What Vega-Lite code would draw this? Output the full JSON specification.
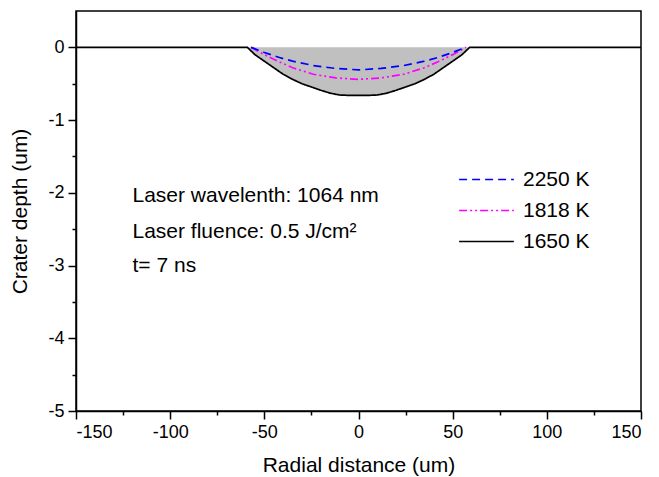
{
  "$schema": "https://vega.github.io/schema/vega-lite/v6.json",
  "width": 565,
  "height": 400,
  "autosize": "none",
  "padding": {"left": 76, "top": 11, "right": 18, "bottom": 66},
  "background": "white",
  "config": {
    "font": "Liberation Sans",
    "view": {"stroke": "black", "strokeWidth": 1.5},
    "axis": {
      "domainColor": "black", "domainWidth": 1.5, "tickColor": "black", "tickWidth": 1.5,
      "labelColor": "black", "labelFontSize": 18, "labelFont": "Liberation Sans",
      "titleColor": "black", "titleFontSize": 21, "titleFont": "Liberation Sans", "titleFontWeight": "normal",
      "grid": false
    }
  },
  "datasets": {
    "curves": [
      {"series": "1650 K", "x": -150, "y": 0},
      {"series": "1650 K", "x": -59, "y": 0},
      {"series": "1650 K", "x": -55, "y": -0.1},
      {"series": "1650 K", "x": -50, "y": -0.19},
      {"series": "1650 K", "x": -45, "y": -0.28},
      {"series": "1650 K", "x": -40, "y": -0.37},
      {"series": "1650 K", "x": -35, "y": -0.44},
      {"series": "1650 K", "x": -30, "y": -0.5},
      {"series": "1650 K", "x": -25, "y": -0.545},
      {"series": "1650 K", "x": -20, "y": -0.59},
      {"series": "1650 K", "x": -15, "y": -0.63},
      {"series": "1650 K", "x": -10, "y": -0.655},
      {"series": "1650 K", "x": -5, "y": -0.66},
      {"series": "1650 K", "x": 0, "y": -0.66},
      {"series": "1650 K", "x": 5, "y": -0.66},
      {"series": "1650 K", "x": 10, "y": -0.655},
      {"series": "1650 K", "x": 15, "y": -0.63},
      {"series": "1650 K", "x": 20, "y": -0.59},
      {"series": "1650 K", "x": 25, "y": -0.545},
      {"series": "1650 K", "x": 30, "y": -0.5},
      {"series": "1650 K", "x": 35, "y": -0.44},
      {"series": "1650 K", "x": 40, "y": -0.37},
      {"series": "1650 K", "x": 45, "y": -0.28},
      {"series": "1650 K", "x": 50, "y": -0.19},
      {"series": "1650 K", "x": 55, "y": -0.1},
      {"series": "1650 K", "x": 59, "y": 0},
      {"series": "1650 K", "x": 150, "y": 0},
      {"series": "1818 K", "x": -57, "y": 0},
      {"series": "1818 K", "x": -50, "y": -0.1},
      {"series": "1818 K", "x": -42, "y": -0.2},
      {"series": "1818 K", "x": -35, "y": -0.28},
      {"series": "1818 K", "x": -24, "y": -0.37},
      {"series": "1818 K", "x": -12, "y": -0.42},
      {"series": "1818 K", "x": 0, "y": -0.44},
      {"series": "1818 K", "x": 12, "y": -0.42},
      {"series": "1818 K", "x": 24, "y": -0.37},
      {"series": "1818 K", "x": 35, "y": -0.28},
      {"series": "1818 K", "x": 42, "y": -0.2},
      {"series": "1818 K", "x": 50, "y": -0.1},
      {"series": "1818 K", "x": 57, "y": 0},
      {"series": "2250 K", "x": -57, "y": 0},
      {"series": "2250 K", "x": -50, "y": -0.07},
      {"series": "2250 K", "x": -42, "y": -0.14},
      {"series": "2250 K", "x": -35, "y": -0.19},
      {"series": "2250 K", "x": -24, "y": -0.25},
      {"series": "2250 K", "x": -12, "y": -0.29},
      {"series": "2250 K", "x": 0, "y": -0.31},
      {"series": "2250 K", "x": 12, "y": -0.29},
      {"series": "2250 K", "x": 24, "y": -0.25},
      {"series": "2250 K", "x": 35, "y": -0.19},
      {"series": "2250 K", "x": 42, "y": -0.14},
      {"series": "2250 K", "x": 50, "y": -0.07},
      {"series": "2250 K", "x": 57, "y": 0}
    ],
    "notes": [
      {"x": -120, "y": -2.044, "text": "Laser wavelenth: 1064 nm"},
      {"x": -120, "y": -2.539, "text": "Laser fluence: 0.5 J/cm²"},
      {"x": -120, "y": -3.007, "text": "t= 7 ns"}
    ]
  },
  "encoding": {
    "x": {
      "field": "x", "type": "quantitative",
      "scale": {"domain": [-150, 150], "nice": false, "zero": false},
      "axis": {
        "title": "Radial distance (um)",
        "values": [-150, -125, -100, -75, -50, -25, 0, 25, 50, 75, 100, 125, 150],
        "labelExpr": "datum.value % 50 === 0 ? '' + datum.value : ''",
        "tickSize": {"condition": {"test": "datum.value % 50 !== 0", "value": 4}, "value": 8},
        "labelPadding": 4,
        "titlePadding": 13
      }
    },
    "y": {
      "field": "y", "type": "quantitative",
      "scale": {"domain": [-5, 0.5], "nice": false, "zero": false},
      "axis": {
        "title": "Crater depth (um)",
        "values": [-5, -4.5, -4, -3.5, -3, -2.5, -2, -1.5, -1, -0.5, 0],
        "labelExpr": "datum.value % 1 === 0 ? '' + datum.value : ''",
        "tickSize": {"condition": {"test": "datum.value % 1 !== 0", "value": 4}, "value": 8},
        "labelPadding": 4,
        "titlePadding": 17
      }
    }
  },
  "layer": [
    {
      "data": {"name": "curves"},
      "transform": [{"filter": "datum.series === '1650 K'"}],
      "mark": {"type": "area", "color": "#c0c0c0", "opacity": 1},
      "encoding": {"y2": {"datum": 0}}
    },
    {
      "data": {"name": "curves"},
      "mark": {"type": "line", "strokeWidth": 1.7},
      "encoding": {
        "color": {
          "field": "series", "type": "nominal",
          "scale": {"domain": ["2250 K", "1818 K", "1650 K"], "range": ["#0000ff", "#ff00ff", "#000000"]},
          "legend": {
            "title": null, "orient": "none", "legendX": 382, "legendY": 158,
            "symbolType": "stroke", "symbolSize": 3000, "symbolStrokeWidth": 1.7,
            "labelFontSize": 21, "labelFont": "Liberation Sans", "labelColor": "black",
            "clipHeight": 21, "rowPadding": 9, "labelOffset": 8
          }
        },
        "strokeDash": {
          "field": "series", "type": "nominal",
          "scale": {"domain": ["2250 K", "1818 K", "1650 K"], "range": [[8, 5], [8, 3, 2, 3, 2, 3], [1, 0]]},
          "legend": null
        },
        "detail": {"field": "series"}
      }
    },
    {
      "data": {"name": "notes"},
      "mark": {"type": "text", "align": "left", "baseline": "middle", "fontSize": 21, "font": "Liberation Sans", "color": "black"},
      "encoding": {"text": {"field": "text"}}
    }
  ]
}
